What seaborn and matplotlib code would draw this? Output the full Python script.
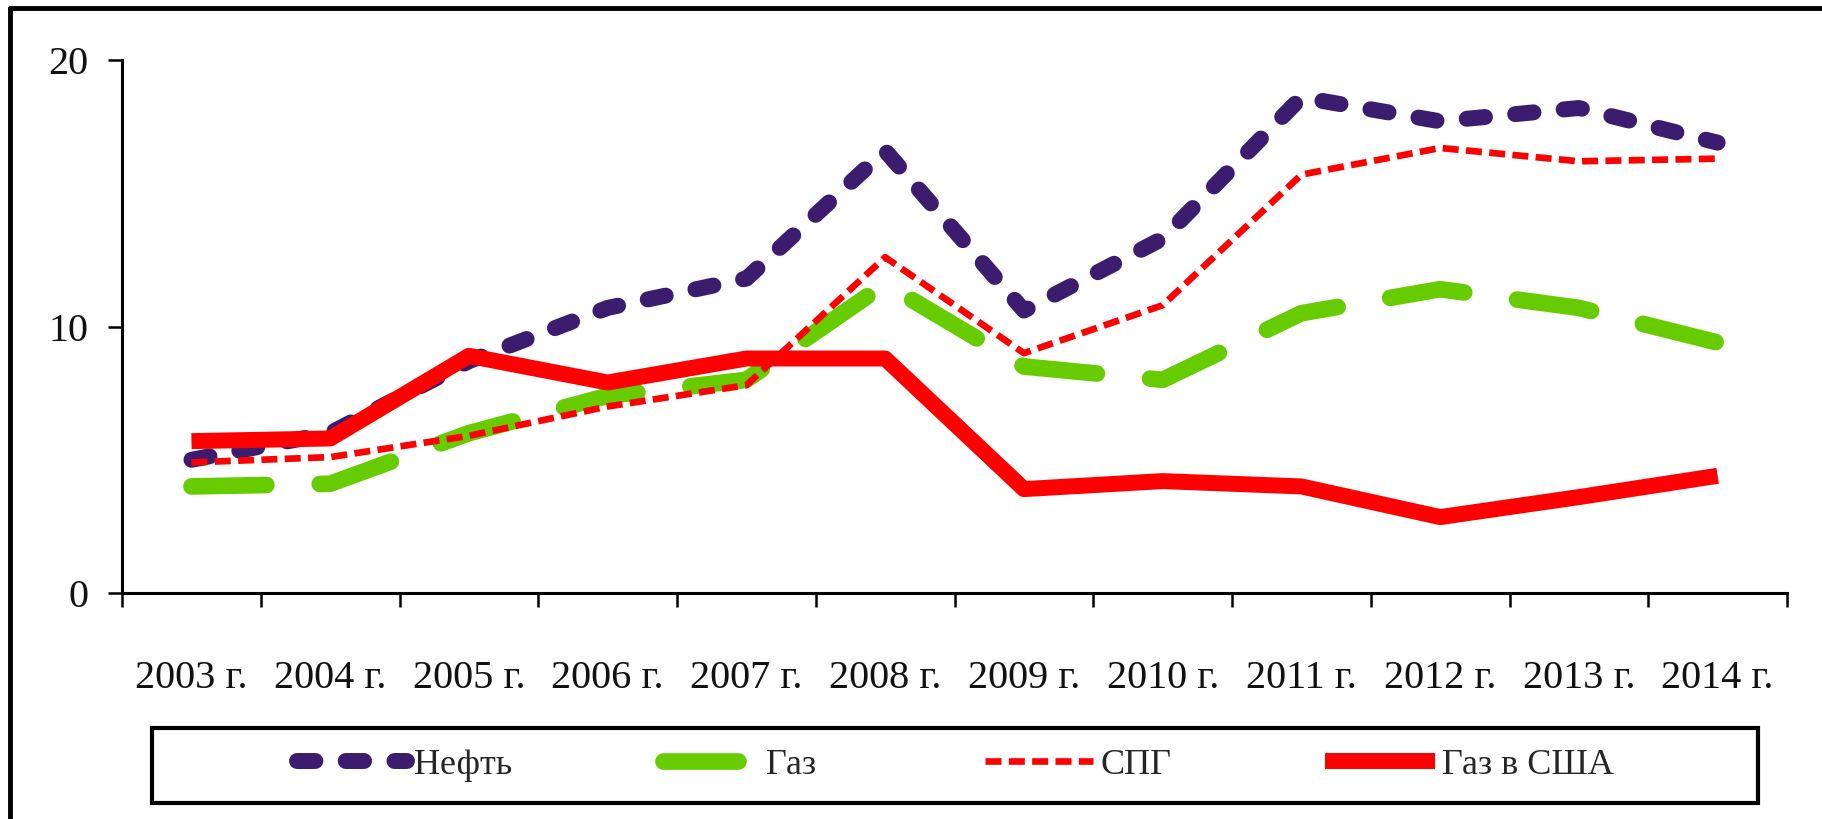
import numpy as np
import pandas as pd
import matplotlib
matplotlib.use('Agg')
import matplotlib.pyplot as plt
import seaborn as sns
from matplotlib.lines import Line2D
from matplotlib.patches import Rectangle

# Chart values
years = ['2003 г.', '2004 г.', '2005 г.', '2006 г.', '2007 г.', '2008 г.',
         '2009 г.', '2010 г.', '2011 г.', '2012 г.', '2013 г.', '2014 г.']
oil = [5.0, 6.0, 8.7, 10.7, 11.8, 16.6, 10.6, 13.3, 18.6, 17.7, 18.2, 16.9]
gas = [4.0, 4.1, 6.0, 7.4, 8.0, 11.6, 8.5, 8.0, 10.5, 11.4, 10.7, 9.4]
lng = [4.9, 5.1, 5.9, 7.0, 7.8, 12.6, 9.0, 10.8, 15.7, 16.7, 16.2, 16.3]
gas_usa = [5.7, 5.8, 8.9, 7.9, 8.8, 8.8, 3.9, 4.2, 4.0, 2.85, 3.6, 4.4]
series_names = ['Нефть', 'Газ', 'СПГ', 'Газ в США']
y_ticks = [0, 10, 20]

df = pd.DataFrame({'pos': np.arange(len(years)), 'year': years,
                   'Нефть': oil, 'Газ': gas, 'СПГ': lng, 'Газ в США': gas_usa})

sns.set_theme(style='white')
plt.rcParams['font.family'] = ['Liberation Serif', 'DejaVu Serif']

fig = plt.figure(figsize=(18.22, 8.19), dpi=100)
ax = fig.add_axes([0.0670, 0.2759, 0.9138, 0.6508])

styles = {
    'Нефть': dict(color='#3b1c6e', lw=11.5, ls=(0, (1.15, 1.9)), dash_capstyle='round'),
    'Газ': dict(color='#66cc00', lw=12, ls=(0, (4.5, 3.2)), dash_capstyle='round'),
    'СПГ': dict(color='#ff0000', lw=4.8, ls=(0, (2.4, 1.1)), dash_capstyle='butt'),
    'Газ в США': dict(color='#ff0000', lw=11.5, ls='-', solid_capstyle='butt'),
}
for name in series_names:
    st = styles[name]
    sns.lineplot(data=df, x='pos', y=name, ax=ax, color=st['color'], linewidth=st['lw'],
                 linestyle=st['ls'], label=name,
                 **{k: v for k, v in st.items() if k.endswith('capstyle')})

ax.set_xlim(-0.5, len(years) - 0.5)
ax.set_ylim(0, 20)
ax.set_xticks(np.arange(len(years) + 1) - 0.5)
ax.set_xticklabels([])
ax.set_xticks(np.arange(len(years)), minor=True)
ax.set_xticklabels(years, minor=True, fontsize=29)
ax.set_yticks(y_ticks)
ax.set_yticklabels([str(v) for v in y_ticks], fontsize=29)
ax.set_xlabel('')
ax.set_ylabel('')

ax.tick_params(axis='x', which='major', direction='out', length=10, width=1.8,
               color='black', bottom=True)
ax.tick_params(axis='x', which='minor', length=0, pad=48, labelcolor='#111111')
ax.tick_params(axis='y', direction='out', length=10, width=1.8, color='black',
               left=True, pad=14, labelcolor='#111111')

for side in ['top', 'right']:
    ax.spines[side].set_visible(False)
for side in ['left', 'bottom']:
    ax.spines[side].set_color('black')
    ax.spines[side].set_linewidth(2.2)

ax.get_legend().remove()
handles, labels = ax.get_legend_handles_labels()

# one legend entry per slot, like the spread-out entries of the original
legend_x = [0.163, 0.364, 0.5406, 0.7272]
handle_len = [3.05, 2.64, 3.0, 3.05]
for h, lab, x, hl in zip(handles, labels, legend_x, handle_len):
    fig.legend([h], [lab], loc='center left', bbox_to_anchor=(x, 0.0659),
               frameon=False, fontsize=26, handlelength=hl, handletextpad=0.2,
               borderpad=0, borderaxespad=0)

# legend box and outer picture frame
fig.add_artist(Rectangle((0.0834, 0.0195), 0.8815, 0.0916, transform=fig.transFigure,
                         fill=False, edgecolor='black', linewidth=3))
fig.add_artist(Line2D([10 / 1822, 1.0], [1 - 8 / 819, 1 - 8 / 819],
                      transform=fig.transFigure, color='black', linewidth=3.5))
fig.add_artist(Line2D([10 / 1822, 10 / 1822], [0.0, 1 - 8 / 819],
                      transform=fig.transFigure, color='black', linewidth=3.5))

fig.savefig('out.png', dpi=100)
